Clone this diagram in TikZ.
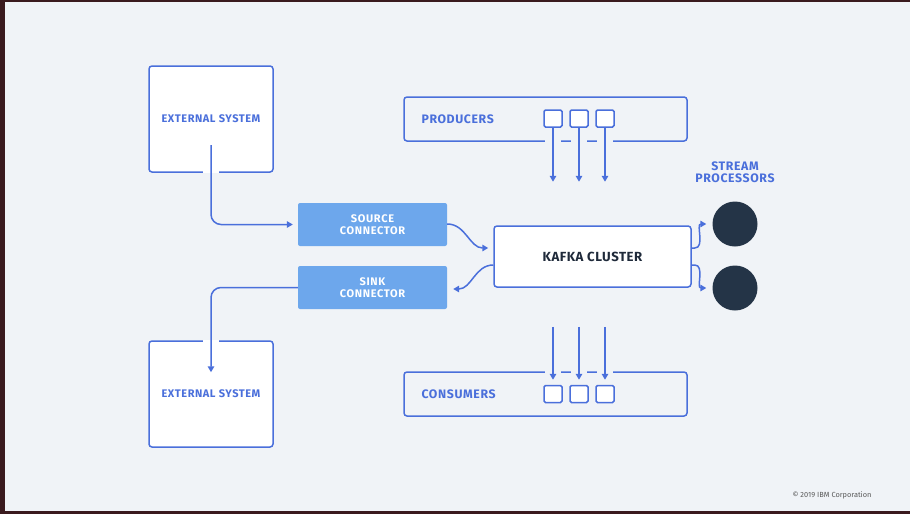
\documentclass[tikz,border=0pt]{standalone}
\usepackage{fontspec}
\setmainfont{Fira Sans}
\usetikzlibrary{arrows.meta,calc}
\definecolor{slidebg}{HTML}{F0F3F7}
\definecolor{frame}{HTML}{3A1A1E}
\definecolor{ibmblue}{HTML}{4A6FDB}
\definecolor{connfill}{HTML}{6DA7EC}
\definecolor{navy}{HTML}{243447}
\definecolor{darktext}{HTML}{1F2A3A}
\tikzset{
  lbl/.style={font=\fontsize{11}{12}\selectfont\bfseries\addfontfeature{LetterSpace=5}},
  biglbl/.style={font=\fontsize{12.3}{14}\selectfont\bfseries\addfontfeature{LetterSpace=5}},
  sysbox/.style={draw=ibmblue, line width=1.5pt, fill=white, rounded corners=3pt,
    minimum width=124pt, minimum height=106pt, text=ibmblue, lbl},
  connbox/.style={fill=connfill, rounded corners=2pt, minimum width=149pt, minimum height=43pt,
    text=white, align=center, font=\fontsize{11}{12.5}\selectfont\bfseries\addfontfeature{LetterSpace=6}},
  kafkabox/.style={draw=ibmblue, line width=1.5pt, fill=white, rounded corners=3pt,
    minimum width=197pt, minimum height=61pt, text=darktext,
    font=\fontsize{13.2}{14}\selectfont\bfseries\addfontfeature{LetterSpace=4}},
  groupbox/.style={draw=ibmblue, line width=1.5pt, rounded corners=3pt,
    minimum width=283pt, minimum height=44pt},
  sq/.style={draw=ibmblue, line width=1.5pt, fill=white, rounded corners=1.5pt,
    minimum width=18pt, minimum height=17pt, inner sep=0pt},
  proc/.style={circle, fill=navy, minimum size=45pt, inner sep=0pt},
  flow/.style={draw=ibmblue, line width=1.5pt, -{Triangle[width=6.5pt,length=6pt]}},
  gapw/.style={draw=white, line width=2.6pt},
  gapb/.style={draw=slidebg, line width=2.6pt},
}
\begin{document}
\begin{tikzpicture}[x=1pt,y=-1pt]
\fill[frame] (0,0) rectangle (910,514);
\fill[slidebg] (5,2) rectangle (910,511);
\useasboundingbox (0,0) rectangle (910,514);

% nodes
\node[sysbox] (ext1) at (211,119) {EXTERNAL SYSTEM};
\node[sysbox] (ext2) at (211,394) {EXTERNAL SYSTEM};
\node[connbox] (src) at (372.5,224.5) {SOURCE\\CONNECTOR};
\node[connbox] (sink) at (372.5,287.5) {SINK\\CONNECTOR};
\node[kafkabox] (kafka) at (592.5,256.5) {KAFKA CLUSTER};
\node[groupbox] (prod) at (545.5,119) {};
\node[groupbox] (cons) at (545.5,394) {};
\node[biglbl, text=ibmblue, anchor=west] (prodlbl) at (418,119) {PRODUCERS};
\node[biglbl, text=ibmblue, anchor=west] (conslbl) at (418,394.5) {CONSUMERS};
\node[sq] (p1) at (553,118.5) {};
\node[sq] (p2) at (579,118.5) {};
\node[sq] (p3) at (605,118.5) {};
\node[sq] (c1) at (553,394) {};
\node[sq] (c2) at (579,394) {};
\node[sq] (c3) at (605,394) {};
\node[proc] (sp1) at (735,224) {};
\node[proc] (sp2) at (735,288) {};
\node[text=ibmblue, align=center, font=\fontsize{12.3}{12.5}\selectfont\bfseries\addfontfeature{LetterSpace=5}] (splbl) at (735,172) {STREAM\\PROCESSORS};
\node[text=gray!70!black, font=\fontsize{7.4}{8}\selectfont] (copy) at (832,495) {© 2019 IBM Corporation};

% gaps in borders
\draw[gapw] (203,172) -- (219,172);
\draw[gapw] (203,341) -- (219,341);
\foreach \x in {553,579,605} {
  \draw[gapb] (\x-8,141) -- (\x+8,141);
  \draw[gapb] (\x-8,372) -- (\x+8,372);
}

% coordinates
\coordinate (e1s) at ($(ext1.center)+(0,26)$);
\coordinate (e2t) at ($(ext2.north)+(0,32)$);
\coordinate (pa1) at ($(p1.south)+(0,54)$);
\coordinate (pa2) at ($(p2.south)+(0,54)$);
\coordinate (pa3) at ($(p3.south)+(0,54)$);
\coordinate (ca1) at ($(c1.north)+(0,-58)$);
\coordinate (ca2) at ($(c2.north)+(0,-58)$);
\coordinate (ca3) at ($(c3.north)+(0,-58)$);
\coordinate (sp1in) at ($(sp1.west)+(-6,0)$);
\coordinate (sp2in) at ($(sp2.west)+(-6,0)$);

% connectors
\draw[flow, rounded corners=10pt, shorten >=5pt] (e1s) |- (src.west);
\draw[flow] ($(src.east)+(0,-0.5)$) to[out=0,in=180] ($(kafka.west)+(-5,-8.5)$);
\draw[flow] ($(kafka.west)+(0,8.5)$) to[out=180,in=0] ($(sink.east)+(6,1.5)$);
\draw[flow, rounded corners=10pt] (sink.west) -| (e2t);
\draw[flow] (p1.south) -- (pa1);
\draw[flow] (p2.south) -- (pa2);
\draw[flow] (p3.south) -- (pa3);
\draw[flow, shorten >=5pt] (ca1) -- (c1.north);
\draw[flow, shorten >=5pt] (ca2) -- (c2.north);
\draw[flow, shorten >=5pt] (ca3) -- (c3.north);
\draw[flow] ($(kafka.east)+(0,-8.5)$) -- ++(3,0) to[out=0,in=180] (sp1in);
\draw[flow] ($(kafka.east)+(0,8.5)$) -- ++(3,0) to[out=0,in=180] (sp2in);
\end{tikzpicture}
\end{document}
